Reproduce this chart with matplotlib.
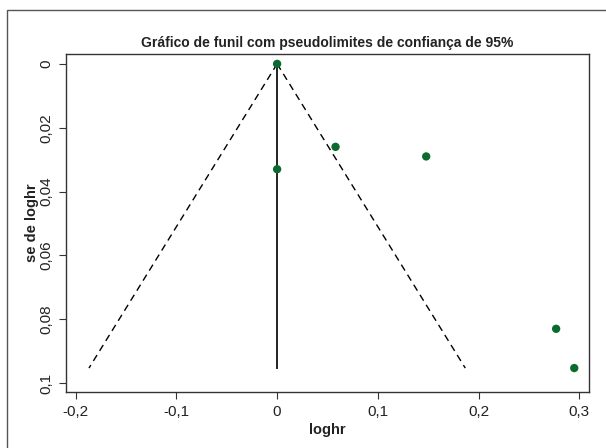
import matplotlib
matplotlib.use("Agg")
import matplotlib.pyplot as plt
from matplotlib.patches import Rectangle
from matplotlib.ticker import FuncFormatter
import numpy as np

# Estudos (loghr e erro padrao)
loghr = [0.0, 0.0, 0.058, 0.148, 0.277, 0.295]
se_loghr = [0.0, 0.033, 0.026, 0.029, 0.083, 0.0953]

pooled = 0.0
z95 = 1.96

x_ticks = [-0.2, -0.1, 0.0, 0.1, 0.2, 0.3]
y_ticks = [0.0, 0.02, 0.04, 0.06, 0.08, 0.1]

plt.rcParams["font.family"] = ["Liberation Sans", "DejaVu Sans"]

fig = plt.figure(figsize=(6.06, 4.48), dpi=100)

# moldura externa (so aparecem os lados superior e esquerdo)
fig.patches.append(Rectangle((0.0116, -0.1), 1.2, 1.0777, transform=fig.transFigure,
                             fill=False, edgecolor="#555555", linewidth=1.0))

ax = fig.add_axes([0.1089, 0.125, 0.863, 0.7545])

se_max = max(se_loghr)
se_line = np.array([0.0, se_max])
ax.plot(pooled - z95 * se_line, se_line, color="black", linestyle=(0, (5, 3.5)), linewidth=1.0)
ax.plot(pooled + z95 * se_line, se_line, color="black", linestyle=(0, (5, 3.5)), linewidth=1.0)
ax.plot([pooled, pooled], [0.0, se_max], color="#222222", linewidth=1.4)

ax.scatter(loghr, se_loghr, s=36, color="#0b6a2e", zorder=3, edgecolors="none")

ax.set_xlim(-0.2096, 0.3096)
ax.set_ylim(0.1028, -0.0031)
ax.set_xticks(x_ticks)
ax.set_yticks(y_ticks)

fmt = FuncFormatter(lambda v, p: ("%g" % round(v, 3)).replace(".", ","))
ax.xaxis.set_major_formatter(fmt)
ax.yaxis.set_major_formatter(fmt)
ax.tick_params(axis="both", labelsize=11, length=5, width=0.8, pad=4,
               color="#333333", labelcolor="#222222")
plt.setp(ax.get_yticklabels(), rotation=90, va="center")

for s in ax.spines.values():
    s.set_color("#333333")
    s.set_linewidth(1.0)

ax.set_title("Gráfico de funil com pseudolimites de confiança de 95%", fontsize=10,
             fontweight="bold", pad=5, color="#222222")
ax.set_xlabel("loghr", fontsize=10.5, fontweight="bold", labelpad=3, color="#222222")
ax.set_ylabel("se de loghr", fontsize=10.5, fontweight="bold", labelpad=0, color="#222222")

fig.savefig("out.png", dpi=100)
